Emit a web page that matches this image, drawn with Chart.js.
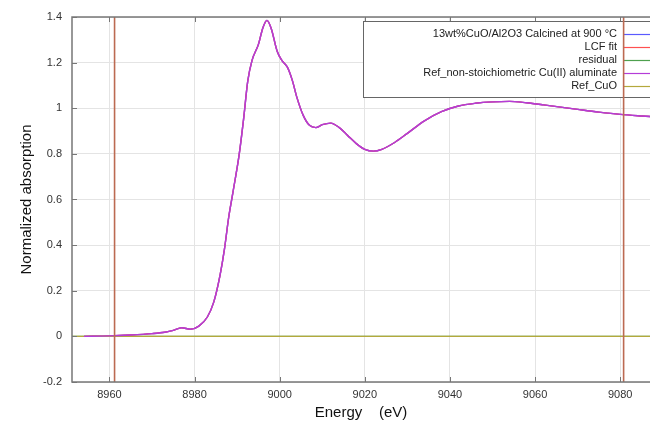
<!DOCTYPE html>
<html>
<head>
<meta charset="utf-8">
<script src="https://cdn.jsdelivr.net/npm/chart.js@4/dist/chart.umd.min.js"></script>
<style>
    html, body { margin: 0; padding: 0; background: #fff; }
    #wrap { width: 650px; height: 425px; }
</style>
</head>
<body>
<div id="wrap"><canvas id="xanes" width="650" height="425"></canvas></div>
<script>
// energy grid (eV) and normalized absorption
const energy = [8954, 8960, 8965, 8970, 8973, 8975, 8977, 8979, 8981, 8983, 8984.5, 8986, 8987, 8988, 8989,
    8990.5, 8991.5, 8992.5, 8993.5, 8995, 8996, 8997, 8998, 8999.4, 9000.5, 9001.8, 9003, 9004, 9005.5, 9007,
    9008.5, 9010, 9012, 9014, 9016, 9018, 9020, 9022, 9024, 9027, 9030, 9034, 9038, 9042, 9046, 9050, 9054,
    9058, 9062, 9066, 9070, 9075, 9080, 9085, 9090];
const sampleMu = [0.0, 0.002, 0.006, 0.012, 0.018, 0.026, 0.038, 0.031, 0.045, 0.085, 0.15, 0.27, 0.38, 0.52, 0.63,
    0.80, 0.95, 1.12, 1.21, 1.28, 1.35, 1.385, 1.35, 1.25, 1.21, 1.18, 1.12, 1.05, 0.97, 0.925,
    0.915, 0.928, 0.935, 0.915, 0.88, 0.845, 0.82, 0.812, 0.82, 0.85, 0.89, 0.945, 0.985, 1.01, 1.022, 1.028, 1.03,
    1.024, 1.015, 1.005, 0.995, 0.983, 0.973, 0.966, 0.96];
// LCF result: fit identical to the aluminate reference, CuO weight 0
const fitMu = sampleMu.slice();
const refAluminate = sampleMu.slice();
const zeroEnergy = [8951, 9090];
const residual = [0, 0];
const refCuO = [0, 0];
const fitRange = [8961.2, 9080.8];

const xTicks = [8960, 8980, 9000, 9020, 9040, 9060, 9080];
const yTicks = [-0.2, 0, 0.2, 0.4, 0.6, 0.8, 1, 1.2, 1.4];

const seriesLabels = ['13wt%CuO/Al2O3 Calcined at 900 °C', 'LCF fit', 'residual',
    'Ref_non-stoichiometric Cu(II) aluminate', 'Ref_CuO'];
const seriesColors = ['#5a5aff', '#ff5050', '#4ea04e', '#b43cd8', '#b4a83c'];

function toPoints(xs, ys)
{
    return xs.map((x, i) => ({ x: x, y: ys[i] }));
}

// legend box + fit range markers + inner tick marks
const lcfPlugin = {
    id: 'lcfPlugin',
    afterDraw(chart)
    {
        const { ctx, chartArea: { top, bottom, left, right } } = chart;
        const xs = chart.scales.x, ys = chart.scales.y;

        ctx.save();
        // inner ticks
        ctx.strokeStyle = '#777';
        ctx.lineWidth = 1;
        xTicks.forEach(v =>
        {
            const px = Math.round(xs.getPixelForValue(v)) + 0.5;
            ctx.beginPath();
            ctx.moveTo(px, bottom); ctx.lineTo(px, bottom - 5);
            ctx.moveTo(px, top); ctx.lineTo(px, top + 5);
            ctx.stroke();
        });
        yTicks.forEach(v =>
        {
            const py = Math.round(ys.getPixelForValue(v)) + 0.5;
            ctx.beginPath();
            ctx.moveTo(left, py); ctx.lineTo(left + 5, py);
            ctx.stroke();
        });

        // legend
        const bx = 363.5, by = 21.5, bw = 300, bh = 76;
        ctx.fillStyle = '#fff';
        ctx.fillRect(bx, by, bw, bh);
        ctx.strokeStyle = '#666';
        ctx.lineWidth = 1;
        ctx.strokeRect(bx, by, bw, bh);
        ctx.font = '11px "Liberation Sans", Arial, sans-serif';
        ctx.textAlign = 'right';
        ctx.textBaseline = 'middle';
        seriesLabels.forEach((label, i) =>
        {
            const yy = 34 + i * 13;
            ctx.fillStyle = '#222';
            ctx.fillText(label, 617, yy);
            ctx.strokeStyle = seriesColors[i];
            ctx.lineWidth = 1.2;
            ctx.beginPath();
            ctx.moveTo(623, yy + 0.5);
            ctx.lineTo(650, yy + 0.5);
            ctx.stroke();
        });

        // fit range
        ctx.strokeStyle = '#bc6a52';
        ctx.lineWidth = 1.6;
        fitRange.forEach(v =>
        {
            const px = xs.getPixelForValue(v);
            ctx.beginPath();
            ctx.moveTo(px, top);
            ctx.lineTo(px, bottom);
            ctx.stroke();
        });

        // frame
        ctx.strokeStyle = '#777';
        ctx.lineWidth = 1.5;
        ctx.beginPath();
        ctx.moveTo(right, top); ctx.lineTo(left, top); ctx.lineTo(left, bottom); ctx.lineTo(right, bottom);
        ctx.stroke();
        ctx.restore();
    }
};

function lineSet(label, xs, ys, color, order)
{
    return {
        label: label,
        data: toPoints(xs, ys),
        borderColor: color,
        backgroundColor: color,
        borderWidth: 1.4,
        pointRadius: 0,
        fill: false,
        cubicInterpolationMode: 'monotone',
        order: order
    };
}

const ctx = document.getElementById('xanes').getContext('2d');
new Chart(ctx, {
    type: 'line',
    data: {
        datasets: [
            lineSet(seriesLabels[0], energy, sampleMu, seriesColors[0], 3),
            lineSet(seriesLabels[1], energy, fitMu, seriesColors[1], 2),
            lineSet(seriesLabels[2], zeroEnergy, residual, seriesColors[2], 2),
            lineSet(seriesLabels[3], energy, refAluminate, seriesColors[3], 0),
            lineSet(seriesLabels[4], zeroEnergy, refCuO, seriesColors[4], 0)
        ]
    },
    options: {
        responsive: false,
        animation: false,
        layout: { padding: { top: 17, right: 0, left: 0, bottom: 0 } },
        plugins: {
            legend: { display: false },
            tooltip: { enabled: false }
        },
        scales: {
            x: {
                type: 'linear',
                min: 8951.2,
                max: 9087,
                afterBuildTicks: scale => { scale.ticks = xTicks.map(v => ({ value: v })); },
                afterFit: scale => { scale.height = 43; },
                grid: { color: '#e4e4e4', lineWidth: 1, drawTicks: false },
                border: { display: false },
                ticks: {
                    padding: 6,
                    color: '#333',
                    font: { family: '"Liberation Sans", Arial, sans-serif', size: 11 },
                    callback: v => String(v)
                },
                title: {
                    display: true,
                    text: 'Energy    (eV)',
                    color: '#111',
                    padding: { top: 0, bottom: 3 },
                    font: { family: '"Liberation Sans", Arial, sans-serif', size: 15 }
                }
            },
            y: {
                min: -0.2,
                max: 1.4,
                afterBuildTicks: scale => { scale.ticks = yTicks.map(v => ({ value: v })); },
                afterFit: scale => { scale.width = 72; },
                grid: { color: '#e4e4e4', lineWidth: 1, drawTicks: false },
                border: { display: false },
                ticks: {
                    padding: 10,
                    color: '#333',
                    font: { family: '"Liberation Sans", Arial, sans-serif', size: 11 },
                    callback: v => String(Math.round(v * 10) / 10)
                },
                title: {
                    display: true,
                    text: 'Normalized absorption',
                    color: '#111',
                    padding: { top: 18, bottom: 0 },
                    font: { family: '"Liberation Sans", Arial, sans-serif', size: 15 }
                }
            }
        }
    },
    plugins: [lcfPlugin]
});
</script>
</body>
</html>
